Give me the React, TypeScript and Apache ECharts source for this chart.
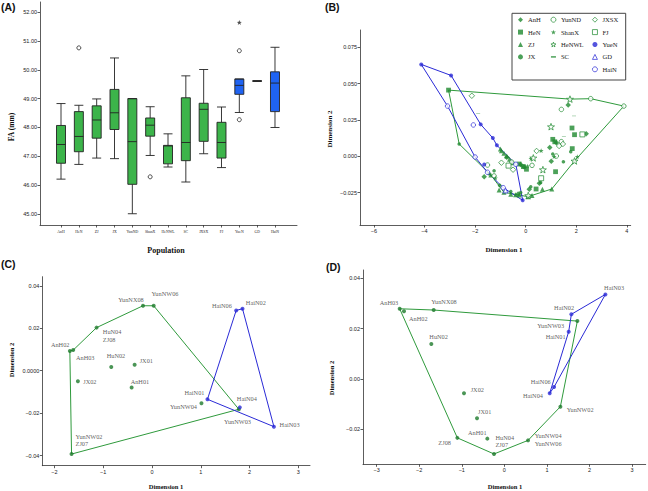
import React, { useEffect, useRef } from 'react';
import * as echarts from 'echarts';

// ---------- Panel A data ----------
const populations = ['AnH', 'HeN', 'ZJ', 'JX', 'YunND', 'ShanX', 'HeNWL', 'SC', 'JXSX', 'FJ', 'YueN', 'GD', 'HaiN'];
const blueGroups = ['YueN', 'GD', 'HaiN'];
const boxMin = [46.21, 46.72, 46.94, 46.92, 45.01, 47.03, 46.63, 46.11, 47.09, 46.61, 48.52, 49.61, 48.0];
const boxQ1 = [46.76, 47.16, 47.63, 47.93, 46.03, 47.7, 46.74, 46.85, 47.52, 46.94, 49.15, 49.61, 48.55];
const boxMedian = [47.41, 47.69, 48.26, 48.51, 47.51, 48.08, 47.36, 47.48, 48.63, 47.48, 49.46, 49.61, 49.54];
const boxQ3 = [48.07, 48.55, 48.75, 49.32, 49.0, 48.33, 47.38, 49.03, 48.84, 48.18, 49.68, 49.61, 49.93];
const boxMax = [48.83, 48.77, 48.99, 50.41, 49.0, 48.72, 47.78, 49.79, 50.01, 48.71, 49.68, 49.61, 50.78];
const outlierCircles: [string, number][] = [['HeN', 50.76], ['ShanX', 46.29], ['YueN', 50.66], ['YueN', 48.27]];
const outlierStars: [string, number][] = [['YueN', 51.64]];
const yTicksA = [45, 46, 47, 48, 49, 50, 51, 52];

// ---------- Panel B data ----------
const ptsAnH = [[1.68, 0.0353], [2.39, 0.0156], [1.21, 0.0094], [1.01, -0.0034], [0.14, -0.0227], [0.54, -0.0186], [-0.2, -0.0057], [-0.07, -0.0071], [-0.75, -0.0007], [-1.64, -0.014], [0.95, 0.006], [-0.3, -0.026]];
const ptsHeN = [[-3.05, 0.0456], [1.83, 0.0195], [1.93, 0.0149], [1.07, 0.0117], [1.84, 0.0053], [1.18, -0.0106], [0.41, -0.0225], [0.03, -0.0089], [-0.26, -0.0053], [-0.09, -0.0071], [1.15, 0.01]];
const ptsZJ = [[-0.96, 0.0039], [-0.86, 0.0021], [-0.75, 0.0002], [-0.64, -0.0021], [-0.53, -0.0044], [-1.38, -0.0128], [-0.86, -0.0248], [-0.59, -0.0261], [-0.26, -0.0266], [0.09, -0.0278], [1.03, -0.0225], [0.66, -0.0227], [-1.05, -0.0232], [-0.4, -0.0265], [0.25, -0.027], [-1.0, 0.005]];
const ptsJX = [[-2.63, 0.0085], [1.07, 0.0016], [1.49, -0.0037], [-1.25, -0.0099], [-1.03, -0.02], [-0.59, -0.0243], [0.2, -0.0209], [0.59, -0.0181], [1.78, 0.0032], [-1.45, -0.012], [-0.2, -0.025]];
const ptsYunND = [[3.88, 0.0346], [2.57, 0.0397], [1.41, 0.0323], [1.21, 0.0002], [0.25, -0.0062], [-1.51, -0.006], [-1.25, -0.0135], [1.41, 0.0101], [-0.55, -0.004]];
const ptsShanX = [[0.21, -0.0016], [0.61, 0.0039], [0.07, -0.0067], [1.12, -0.0002], [2.04, -0.0002], [-1.2, -0.015]];
const ptsHeNWL = [[1.75, 0.0394], [1.93, -0.0032], [1.0, 0.0204], [0.3, -0.0011], [0.68, -0.0092], [0.1, -0.027]];
const ptsSC = [[-1.88, 0.0294], [1.91, 0.0278], [1.51, 0.0135]];
const ptsJXSX = [[-2.13, 0.0417], [1.47, 0.0085], [0.43, 0.0037], [-0.5, -0.0092], [-0.96, -0.0044], [1.32, 0.0071]];
const ptsFJ = [[2.24, 0.0151], [0.61, -0.0151], [-0.68, -0.0064]];
const ptsYueN = [[-4.13, 0.0633], [-2.95, 0.0557], [-1.78, 0.022], [-1.3, 0.0126], [-1.14, 0.0076], [-1.64, -0.0057], [-0.12, -0.0303]];
const ptsGD = [[-0.8, -0.0235]];
const ptsHaiN = [[-3.09, 0.0346], [-2.07, 0.0216], [-2.0, -0.0005], [-1.51, -0.011], [-0.89, -0.0216], [-0.39, -0.0055]];
const bSets: Record<string, number[][]> = {
  AnH: ptsAnH, HeN: ptsHeN, ZJ: ptsZJ, JX: ptsJX, YunND: ptsYunND, ShanX: ptsShanX, HeNWL: ptsHeNWL,
  SC: ptsSC, JXSX: ptsJXSX, FJ: ptsFJ, YueN: ptsYueN, GD: ptsGD, HaiN: ptsHaiN,
};
const bGreenHull: [string, number][] = [['HeN', 0], ['HeNWL', 0], ['YunND', 1], ['YunND', 0], ['HeNWL', 1], ['ZJ', 10], ['ZJ', 9], ['ZJ', 6], ['ZJ', 5], ['JX', 0], ['HeN', 0]];
const bBlueHull: [string, number][] = [['YueN', 0], ['YueN', 1], ['YueN', 2], ['YueN', 3], ['YueN', 4], ['HaiN', 5], ['YueN', 6], ['HaiN', 4], ['HaiN', 3], ['HaiN', 2], ['HaiN', 0], ['YueN', 0]];
const legendCol1 = ['AnH', 'HeN', 'ZJ', 'JX'];
const legendCol2 = ['YunND', 'ShanX', 'HeNWL', 'SC'];
const legendCol3 = ['JXSX', 'FJ', 'YueN', 'GD', 'HaiN'];
const xTicksB = [-6, -4, -2, 0, 2, 4];
const yTicksB = [-0.025, 0, 0.025, 0.05, 0.075];

// ---------- Panel C data ----------
const cNames = ['AnH01', 'AnH02', 'AnH03', 'HuN02', 'HuN04\nZJ08', 'JX01', 'JX02', 'YunNX08', 'YunNW06', 'YunNW04', 'YunNW03', 'YunNW02\nZJ07', 'HaiN01', 'HaiN02', 'HaiN03', 'HaiN04', 'HaiN06'];
const cX = [-0.418, -1.685, -1.616, -0.836, -1.137, -0.356, -1.52, -0.185, 0.034, 1.014, 1.781, -1.65, 1.137, 1.856, 2.5, 1.801, 1.726];
const cY = [-0.0079, 0.0093, 0.0097, 0.0017, 0.0203, 0.0028, -0.005, 0.0306, 0.0306, -0.0154, -0.0182, -0.0393, -0.0135, 0.0292, -0.0264, -0.0173, 0.0284];
const cGreenHull = ['YunNW02\nZJ07', 'AnH02', 'AnH03', 'HuN04\nZJ08', 'YunNX08', 'YunNW06', 'YunNW03', 'YunNW02\nZJ07'];
const cBlueHull = ['HaiN01', 'HaiN06', 'HaiN02', 'HaiN03', 'HaiN01'];
const xTicksC = [-2, -1, 0, 1, 2, 3];
const yTicksC = [-0.04, -0.02, 0, 0.02, 0.04];

// ---------- Panel D data ----------
const dNames = ['AnH01', 'AnH02', 'AnH03', 'HuN02', 'HuN04\nZJ07', 'JX01', 'JX02', 'ZJ08', 'YunNX08', 'YunNW02', 'YunNW03', 'YunNW04\nYunNW06', 'HaiN01', 'HaiN02', 'HaiN03', 'HaiN04', 'HaiN06'];
const dX = [-0.4, -2.357, -2.459, -1.715, -0.243, -0.642, -0.948, -1.104, -1.66, 1.316, 1.715, 0.556, 1.511, 1.574, 2.373, 1.065, 1.167];
const dY = [-0.0237, 0.0269, 0.0279, 0.0139, -0.0298, -0.0156, -0.0057, -0.0234, 0.0274, -0.011, 0.023, -0.0244, 0.0188, 0.0257, 0.0336, -0.0057, -0.0032];
const dGreenHull = ['AnH03', 'YunNX08', 'YunNW03', 'YunNW02', 'YunNW04\nYunNW06', 'HuN04\nZJ07', 'ZJ08', 'AnH03'];
const dBlueHull = ['HaiN04', 'HaiN01', 'HaiN02', 'HaiN03', 'HaiN06', 'HaiN04'];
const xTicksD = [-3, -2, -1, 0, 1, 2, 3];
const yTicksD = [-0.02, 0, 0.02, 0.04];

// ---------- styles ----------
const GREEN = '#2f9a3c';
const GREEN_PT = '#1f8a2f';
const GREEN_DARK = '#1e7a2c';
const BLUE = '#2a2ad6';
const BOX_GREEN = '#3cb44a';
const BOX_BLUE = '#1f63f2';
const SANS = 'Liberation Sans';
const SERIF = 'Liberation Serif';
const STAR = 'path://M0,-10L2.35,-3.24L9.51,-3.09L3.8,1.24L5.88,8.09L0,4L-5.88,8.09L-3.8,1.24L-9.51,-3.09L-2.35,-3.24Z';
const DASH = 'path://M0,0H10V3H0Z';

const bStyle: Record<string, any> = {
  AnH: { symbol: 'diamond', size: 5.5, color: GREEN_PT, hollow: false },
  HeN: { symbol: 'rect', size: 4.8, color: GREEN_PT, hollow: false },
  ZJ: { symbol: 'triangle', size: 5, color: GREEN_PT, hollow: false },
  JX: { symbol: 'circle', size: 3.5, color: GREEN_PT, hollow: false },
  YunND: { symbol: 'circle', size: 4.5, color: GREEN_PT, hollow: true },
  ShanX: { symbol: STAR, size: 5, color: GREEN_PT, hollow: false },
  HeNWL: { symbol: STAR, size: 7, color: GREEN_PT, hollow: true },
  SC: { symbol: DASH, size: [4, 1.4], color: GREEN_PT, hollow: false },
  JXSX: { symbol: 'diamond', size: 5.5, color: GREEN_PT, hollow: true },
  FJ: { symbol: 'rect', size: 5, color: GREEN_PT, hollow: true },
  YueN: { symbol: 'circle', size: 4, color: BLUE, hollow: false },
  GD: { symbol: 'triangle', size: 5, color: BLUE, hollow: true },
  HaiN: { symbol: 'circle', size: 4.5, color: BLUE, hollow: true },
};

const cLabelStyle: Record<string, [number, number, string]> = {
  'AnH01': [8.3, -6.3, 'center'], 'AnH02': [-9.7, -6.3, 'center'], 'AnH03': [12, 7, 'center'],
  'HuN02': [4.7, -11.7, 'center'], 'HuN04\nZJ08': [6.3, 8, 'left'], 'JX01': [5, -4.7, 'left'],
  'JX02': [5.3, 0, 'left'], 'YunNX08': [-12, -6.3, 'center'], 'YunNW06': [11.3, -12.3, 'center'],
  'YunNW04': [-18, 2.7, 'center'], 'YunNW03': [-1.3, 12.7, 'center'], 'YunNW02\nZJ07': [4, -14, 'left'],
  'HaiN01': [-13, -7.3, 'center'], 'HaiN02': [13.3, -6, 'center'], 'HaiN03': [5.7, -2, 'left'],
  'HaiN04': [7, -8.7, 'center'], 'HaiN06': [-14.3, -4.7, 'center'],
};
const dLabelStyle: Record<string, [number, number, string]> = {
  'AnH01': [-10, -6, 'center'], 'AnH02': [14.3, 7.7, 'center'], 'AnH03': [-10.7, -6, 'center'],
  'HuN02': [7.3, -7.7, 'center'], 'HuN04\nZJ07': [1.5, -12.7, 'left'], 'JX01': [7.7, -6.7, 'center'],
  'JX02': [13.3, -4, 'center'], 'ZJ08': [-12.7, 4.3, 'center'], 'YunNX08': [10.3, -9, 'center'],
  'YunNW02': [6.3, 2.7, 'left'], 'YunNW03': [-26.7, 4, 'center'], 'YunNW04\nYunNW06': [6.7, -1, 'left'],
  'HaiN01': [-13, 5, 'center'], 'HaiN02': [-7.3, -7, 'center'], 'HaiN03': [8.7, -7, 'center'],
  'HaiN04': [-16.7, 2, 'center'], 'HaiN06': [-13.3, -5.3, 'center'],
};

const minus = (s: string) => s.replace('-', '\u2212');

function valueAxis(gridIndex: number, min: number, max: number, ticks: number[] | null, fmt: any, extra: any = {}) {
  return {
    type: 'value', gridIndex, min, max,
    axisLine: { show: true, onZero: false, lineStyle: { color: '#333', width: 0.8 } },
    axisTick: ticks ? { show: true, customValues: ticks, length: 2.5, lineStyle: { color: '#333', width: 0.8 } } : { show: false },
    axisLabel: ticks ? { show: true, customValues: ticks, formatter: fmt, fontSize: 5.5, fontFamily: SANS, color: '#222', margin: 3 } : { show: false },
    splitLine: { show: false },
    ...extra,
  };
}

function hullLine(name: string, pts: number[][], color: string, xi: number) {
  return {
    type: 'line', name, xAxisIndex: xi, yAxisIndex: xi, data: pts, symbol: 'none', silent: true,
    lineStyle: { color, width: 1 }, z: 2,
  };
}

function labeledScatter(names: string[], xs: number[], ys: number[], labelStyle: Record<string, [number, number, string]>, blue: boolean, xi: number) {
  const data = names
    .map((n, i) => ({ n, i }))
    .filter(({ n }) => n.startsWith('HaiN') === blue)
    .map(({ n, i }) => {
      const ls = labelStyle[n];
      return { name: n, value: [xs[i], ys[i]], label: { offset: [ls[0], ls[1]], align: ls[2] } };
    });
  return {
    type: 'scatter', xAxisIndex: xi, yAxisIndex: xi, data, symbol: 'circle', symbolSize: 4, silent: true, z: 3,
    itemStyle: { color: blue ? BLUE : GREEN_DARK },
    label: {
      show: true, position: 'inside', formatter: '{b}', fontSize: 6.3, fontFamily: SERIF, color: '#333',
      verticalAlign: 'middle', lineHeight: 7.3, textBorderWidth: 0, textBorderColor: 'transparent',
    },
  };
}

function buildOption() {
  const cIdx = (n: string) => cNames.indexOf(n);
  const dIdx = (n: string) => dNames.indexOf(n);
  const fmtB = (v: number) => minus(String(v));
  const series: any[] = [];

  // Panel A
  series.push({
    type: 'boxplot', xAxisIndex: 1, yAxisIndex: 1, boxWidth: [9, 9], silent: true,
    itemStyle: { color: BOX_GREEN, borderColor: '#222', borderWidth: 0.9 },
    data: populations.map((p, i) => ({
      name: p,
      value: [boxMin[i], boxQ1[i], boxMedian[i], boxQ3[i], boxMax[i]],
      itemStyle: { color: blueGroups.includes(p) ? BOX_BLUE : BOX_GREEN },
    })),
  });
  series.push({
    type: 'scatter', xAxisIndex: 1, yAxisIndex: 1, data: outlierCircles, symbol: 'circle', symbolSize: 4, silent: true,
    itemStyle: { color: '#fff', borderColor: '#222', borderWidth: 1 },
  });
  series.push({
    type: 'scatter', xAxisIndex: 1, yAxisIndex: 1, data: outlierStars, symbol: STAR, symbolSize: 5, silent: true,
    itemStyle: { color: '#222' },
  });

  // Panel B
  series.push(hullLine('bGreen', bGreenHull.map(([s, i]) => bSets[s][i]), GREEN, 2));
  series.push(hullLine('bBlue', bBlueHull.map(([s, i]) => bSets[s][i]), BLUE, 2));
  Object.keys(bSets).forEach((name) => {
    const st = bStyle[name];
    series.push({
      type: 'scatter', name, xAxisIndex: 2, yAxisIndex: 2, data: bSets[name], symbol: st.symbol, symbolSize: st.size,
      symbolKeepAspect: true, silent: true, z: 3,
      itemStyle: st.hollow ? { color: '#fff', borderColor: st.color, borderWidth: 0.9 } : { color: st.color },
    });
  });

  // Panel C
  series.push(hullLine('cGreen', cGreenHull.map((n) => [cX[cIdx(n)], cY[cIdx(n)]]), GREEN, 3));
  series.push(hullLine('cBlue', cBlueHull.map((n) => [cX[cIdx(n)], cY[cIdx(n)]]), BLUE, 3));
  series.push(labeledScatter(cNames, cX, cY, cLabelStyle, false, 3));
  series.push(labeledScatter(cNames, cX, cY, cLabelStyle, true, 3));

  // Panel D
  series.push(hullLine('dGreen', dGreenHull.map((n) => [dX[dIdx(n)], dY[dIdx(n)]]), GREEN, 4));
  series.push(hullLine('dBlue', dBlueHull.map((n) => [dX[dIdx(n)], dY[dIdx(n)]]), BLUE, 4));
  series.push(labeledScatter(dNames, dX, dY, dLabelStyle, false, 4));
  series.push(labeledScatter(dNames, dX, dY, dLabelStyle, true, 4));

  const legendBase = {
    orient: 'vertical', itemWidth: 5, itemHeight: 5, itemGap: 5.4, selectedMode: false, padding: 0,
    itemStyle: { borderWidth: 0.9 },
    textStyle: { fontSize: 6.6, fontFamily: SERIF, fontWeight: 'normal', color: '#222', lineHeight: 7 },
  };

  const titleText = (text: string, x: number, y: number, size: number, rot = 0) => ({
    type: 'text', x, y, rotation: rot, z: 10,
    style: { text, fontSize: size, fontWeight: 'bold', fontFamily: SERIF, fill: '#111', align: 'center', verticalAlign: 'middle' },
  });
  const panelText = (text: string, x: number, y: number) => ({
    type: 'text', x, y, z: 10,
    style: { text, fontSize: 10.5, fontWeight: 'bold', fontFamily: SANS, fill: '#111', align: 'left', verticalAlign: 'top' },
  });

  return {
    animation: false,
    backgroundColor: '#fff',
    grid: [
      { left: 40, top: 2, width: 257, height: 223 },
      { left: 52.1, top: 2, width: 231.8, height: 223 },
      { left: 360, top: 30, width: 270.7, height: 195 },
      { left: 42.3, top: 276.7, width: 267.7, height: 189 },
      { left: 363, top: 270, width: 282.7, height: 194.3 },
    ],
    xAxis: [
      valueAxis(0, 0, 1, null, null),
      {
        type: 'category', gridIndex: 1, data: populations,
        axisLine: { show: false },
        axisTick: { show: true, alignWithLabel: true, length: 2.5, lineStyle: { color: '#333', width: 0.8 } },
        axisLabel: { interval: 0, fontSize: 3.8, fontFamily: SERIF, color: '#222', margin: 5 },
        splitLine: { show: false },
      },
      valueAxis(2, -6.55, 4.15, xTicksB, fmtB),
      valueAxis(3, -2.25, 3.24, xTicksC, fmtB),
      valueAxis(4, -3.32, 3.32, xTicksD, fmtB),
    ],
    yAxis: [
      valueAxis(0, 44.62, 52.35, yTicksA, (v: number) => v.toFixed(2)),
      { type: 'value', gridIndex: 1, min: 44.62, max: 52.35, show: false },
      valueAxis(2, -0.0473, 0.087, yTicksB, (v: number) => minus(v.toFixed(3))),
      valueAxis(3, -0.0448, 0.0443, yTicksC, (v: number) => (Math.abs(v) < 1e-9 ? '0.0000' : minus(v.toFixed(2)))),
      valueAxis(4, -0.0339, 0.0433, yTicksD, (v: number) => (Math.abs(v) < 1e-9 ? '0.00' : minus(v.toFixed(2)))),
    ],
    legend: [
      { ...legendBase, data: legendCol1, left: 518, top: 16.2 },
      { ...legendBase, data: legendCol2, left: 550.5, top: 16.2 },
      { ...legendBase, data: legendCol3, left: 592, top: 16.2 },
    ],
    graphic: [
      { type: 'rect', z: 0, shape: { x: 512, y: 13.3, width: 113.7, height: 66.7 }, style: { fill: '#fff', stroke: '#444', lineWidth: 1 } },
      panelText('(A)', 1, 1.5),
      panelText('(B)', 325, 1.5),
      panelText('(C)', 1, 258),
      panelText('(D)', 326, 261),
      titleText('FA (mm)', 11, 127, 7.5, Math.PI / 2),
      titleText('Population', 166, 250, 8),
      titleText('Dimension 2', 330, 129, 7, Math.PI / 2),
      titleText('Dimension 1', 504, 250, 7),
      titleText('Dimension 2', 11, 360, 6.5, Math.PI / 2),
      titleText('Dimension 1', 166, 486, 6.5),
      titleText('Dimension 2', 331, 378, 6.5, Math.PI / 2),
      titleText('Dimension 1', 505, 486, 6.5),
    ],
    series,
  };
}

export default function App() {
  const ref = useRef<HTMLDivElement>(null);
  useEffect(() => {
    const chart = echarts.init(ref.current!, null, { renderer: 'svg' });
    chart.setOption(buildOption() as any);
    return () => chart.dispose();
  }, []);
  return (
    <div
      ref={ref}
      style={{ position: 'fixed', left: 0, top: 0, width: 648, height: 491, background: '#fff' }}
    />
  );
}
